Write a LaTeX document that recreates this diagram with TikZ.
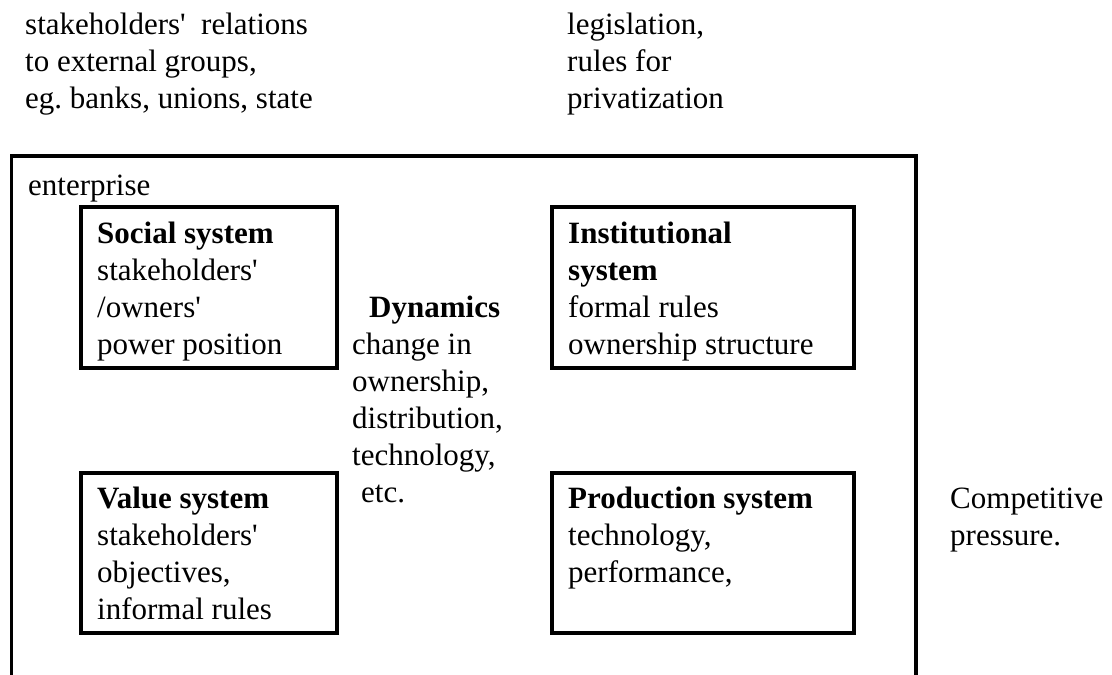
\documentclass[tikz,border=0pt]{standalone}
\usepackage{fontspec}
\setmainfont{Liberation Serif}
\newcommand{\bigtext}{\fontsize{31}{37}\selectfont}
\newcommand{\lines}[1]{\begin{tabular}[t]{@{}l@{}}#1\end{tabular}}
\newcommand{\sq}{\textquotesingle}
\begin{document}
\begin{tikzpicture}[x=1pt,y=-1pt,
  sysbox/.style={draw, line width=3.5pt, inner sep=0pt, anchor=north west},
  txt/.style={inner sep=0pt, anchor=base west, font=\bigtext},
  frame/.style={line width=3.5pt, line join=miter}]
\useasboundingbox (0,0) rectangle (1112,675);

% outer enterprise frame (open at the bottom)
\coordinate (fbl) at (11.5,675);
\coordinate (ftl) at (11.5,156);
\coordinate (ftr) at (916,156);
\coordinate (fbr) at (916,675);
\draw[frame] (fbl) -- (ftl) -- (ftr) -- (fbr);

% external texts
\node[txt] (ext) at (25,34) {\lines{stakeholders\sq\ \ relations\\to external groups,\\eg.\ banks, unions, state}};
\node[txt] (leg) at (567,34) {\lines{legislation,\\rules for\\privatization}};
\node[txt] (ent) at (28,195) {enterprise};

% boxes
\node[sysbox, minimum width=256pt, minimum height=161pt] (social) at (79,205) {};
\node[sysbox, minimum width=302pt, minimum height=161pt] (inst) at (550,205) {};
\node[sysbox, minimum width=256pt, minimum height=160pt] (value) at (79,471) {};
\node[sysbox, minimum width=302pt, minimum height=160pt] (prod) at (550,471) {};

% box texts
\node[txt] (socialt) at (97,243) {\lines{\textbf{Social system}\\stakeholders\sq\\/owners\sq\\power position}};
\node[txt] (instt) at (568,243) {\lines{\textbf{Institutional}\\\textbf{system}\\formal rules\\ownership structure}};
\node[txt] (valuet) at (97,508) {\lines{\textbf{Value system}\\stakeholders\sq\\objectives,\\informal rules}};
\node[txt] (prodt) at (568,508) {\lines{\textbf{Production system}\\technology,\\performance,}};

% dynamics
\node[txt] (dyn) at (352,317) {\lines{\hspace{17pt}\textbf{Dynamics}\\change in\\ownership,\\distribution,\\technology,\\\hspace{9pt}etc.}};

% competitive pressure
\node[txt] (comp) at (950,508) {\lines{Competitive\\pressure.}};
\end{tikzpicture}
\end{document}
